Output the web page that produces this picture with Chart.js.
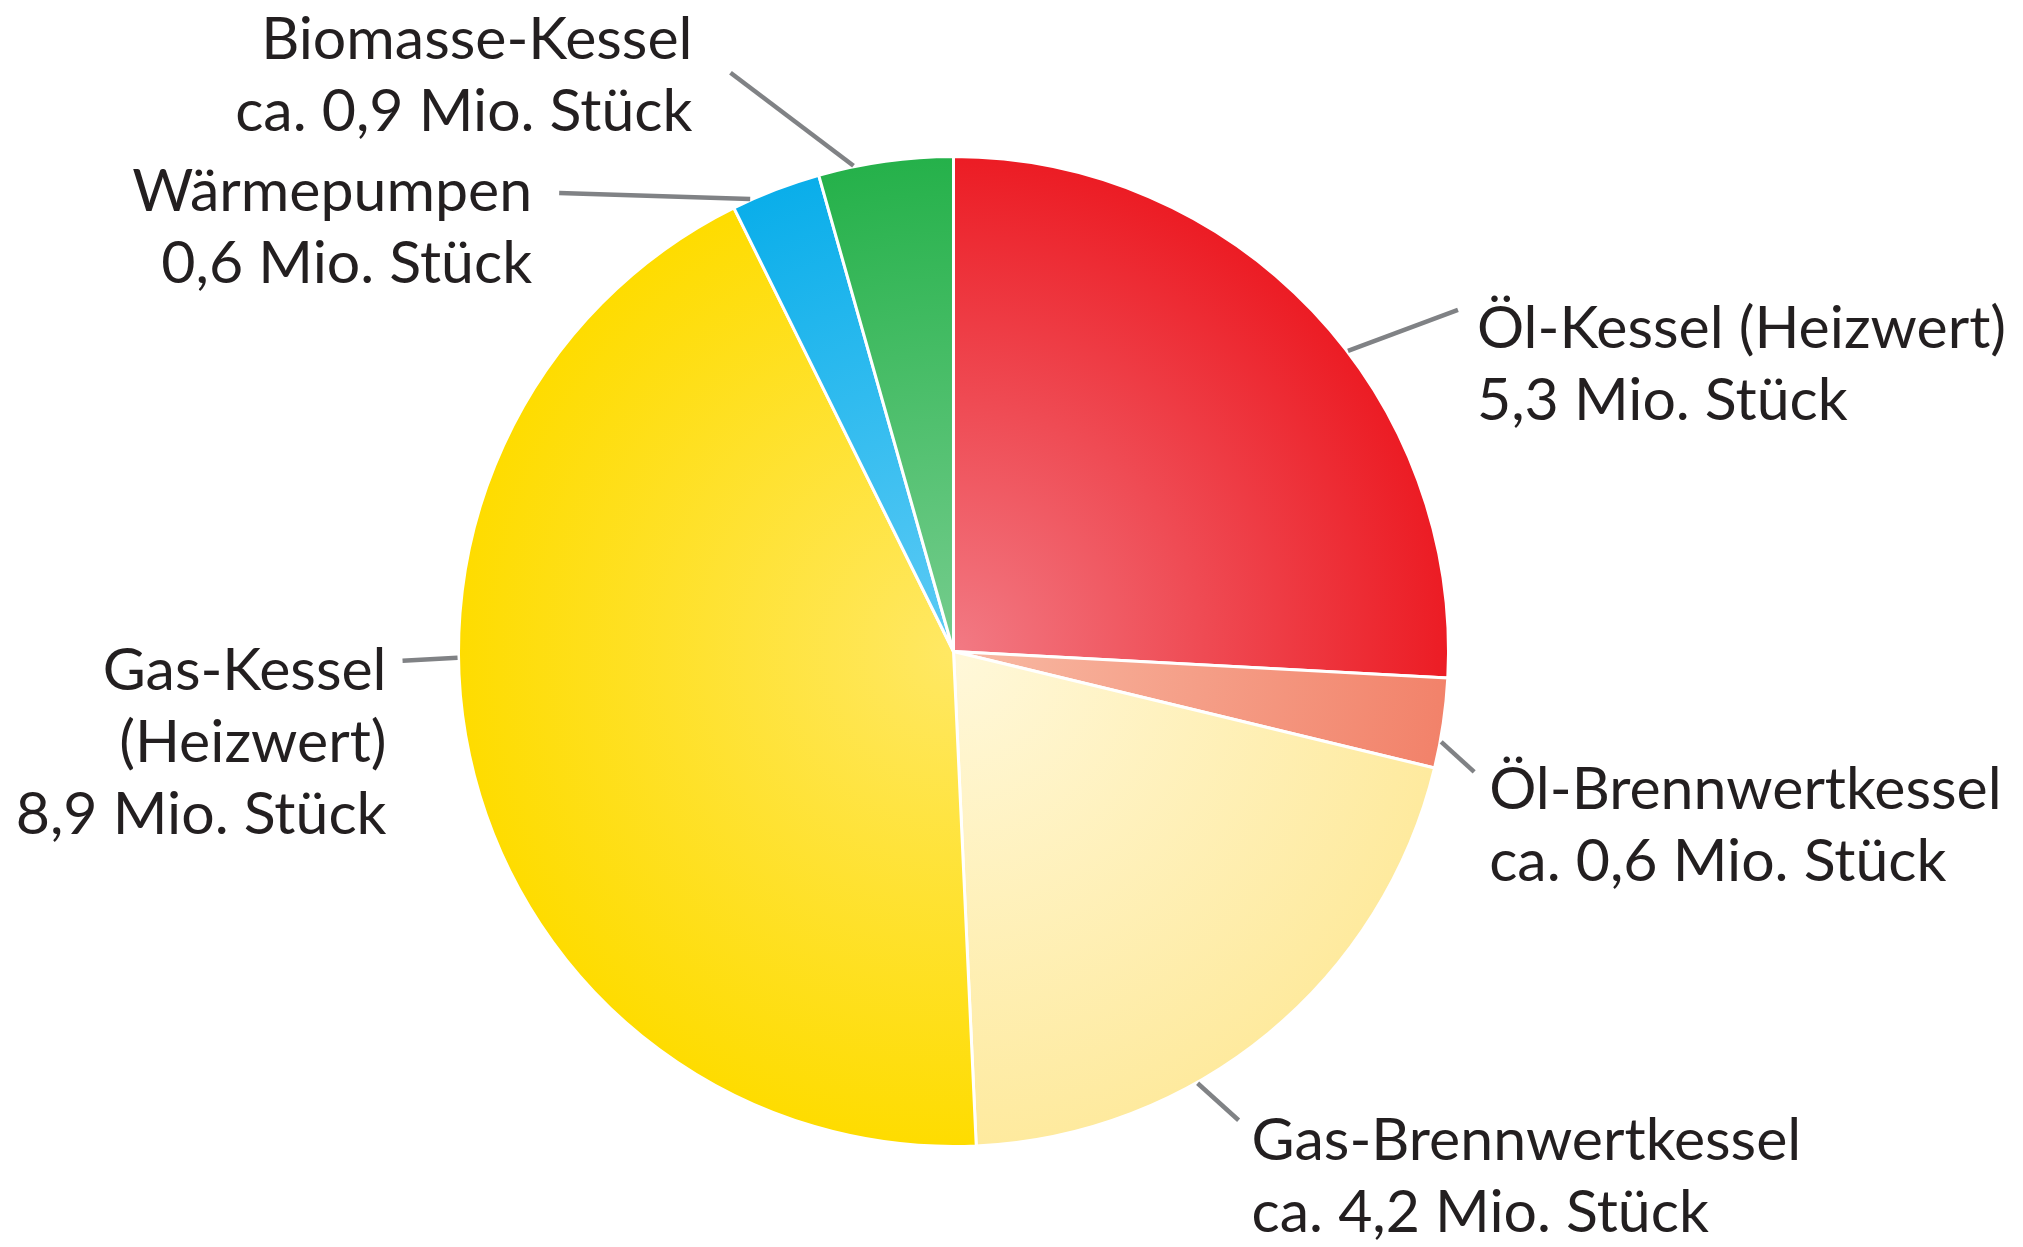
<!DOCTYPE html>
<html>
<head>
<meta charset="utf-8">
<script src="https://cdn.jsdelivr.net/npm/chart.js@4.4.1/dist/chart.umd.min.js"></script>
<style>
  html, body { margin: 0; background: #fff; }
  #wrap { width: 2023px; height: 1247px; }
</style>
</head>
<body>
<div id="wrap"><canvas id="heating_chart"></canvas></div>
<script>
/* data */
const categories = ['Öl-Kessel (Heizwert)', 'Öl-Brennwertkessel', 'Gas-Brennwertkessel', 'Gas-Kessel (Heizwert)', 'Wärmepumpen', 'Biomasse-Kessel'];
const units = [5.3, 0.6, 4.2, 8.9, 0.6, 0.9]; // Mio. Stück
const nameLines = [['Öl-Kessel (Heizwert)'], ['Öl-Brennwertkessel'], ['Gas-Brennwertkessel'], ['Gas-Kessel', '(Heizwert)'], ['Wärmepumpen'], ['Biomasse-Kessel']];
const approx = [false, true, true, false, false, true];

/* colours: light centre -> saturated rim */
const innerColors = ['#f27a84', '#f8baa4', '#fff8da', '#ffe864', '#5ecbf5', '#76cd8e'];
const rimColors = ['#ec1c24', '#f2826a', '#feea9e', '#fedc00', '#0aaeea', '#25b14a'];

/* leader line / label placement: point on the arc (fraction of slice), line vector, text offset */
const leaderLayout = [
    { at: 0.566, dx: 110, dy: -41, tx: 19, ty: 38, align: 'left' },
    { at: 0.705, dx: 33, dy: 30, tx: 15, ty: 37, align: 'left' },
    { at: 0.636, dx: 41, dy: 37, tx: 13, ty: 40, align: 'left' },
    { at: 0.588, dx: -55, dy: 3, tx: -16, ty: 29, align: 'right' },
    { at: 0.203, dx: -191, dy: -6, tx: -27, ty: 18, align: 'right' },
    { at: 0.264, dx: -123, dy: -93, tx: -38, ty: -14, align: 'right' }
];
const BORDER = 3;
const FONT = '59px Lato';
const LINE_HEIGHT = 72;

function valueText(i) {
    const num = units[i].toLocaleString('de-DE', { minimumFractionDigits: 1 });
    return (approx[i] ? 'ca. ' : '') + num + ' Mio. Stück';
}

function sliceFill(ctx) {
    const i = ctx.dataIndex;
    const area = ctx.chart.chartArea;
    if (!area) return rimColors[i];
    const cx = (area.left + area.right) / 2;
    const cy = (area.top + area.bottom) / 2;
    const r = (Math.min(area.right - area.left, area.bottom - area.top) - BORDER) / 2;
    const g = ctx.chart.ctx.createRadialGradient(cx, cy, 0, cx, cy, r);
    g.addColorStop(0, innerColors[i]);
    g.addColorStop(1, rimColors[i]);
    return g;
}

const calloutPlugin = {
    id: 'callouts',
    afterDatasetsDraw(chart) {
        const c = chart.ctx;
        const arcs = chart.getDatasetMeta(0).data;
        c.save();
        arcs.forEach((arc, i) => {
            const p = arc.getProps(['x', 'y', 'startAngle', 'endAngle', 'outerRadius'], true);
            const lay = leaderLayout[i];
            const a = p.startAngle + (p.endAngle - p.startAngle) * lay.at;
            const x0 = p.x + Math.cos(a) * (p.outerRadius + 1);
            const y0 = p.y + Math.sin(a) * (p.outerRadius + 1);
            const x1 = x0 + lay.dx;
            const y1 = y0 + lay.dy;
            c.strokeStyle = '#808285';
            c.lineWidth = 4.5;
            c.beginPath();
            c.moveTo(x0, y0);
            c.lineTo(x1, y1);
            c.stroke();

            const lines = nameLines[i].concat([valueText(i)]);
            c.font = FONT;
            c.fillStyle = '#231f20';
            c.textAlign = lay.align;
            c.textBaseline = 'alphabetic';
            lines.forEach((t, k) => {
                c.fillText(t, x1 + lay.tx, y1 + lay.ty + k * LINE_HEIGHT);
            });
        });
        c.restore();
    }
};

const heating = document.getElementById('heating_chart').getContext('2d');

new Chart(heating, {
    type: 'pie',
    data: {
        labels: categories,
        datasets: [{
            label: 'Mio. Stück',
            data: units,
            backgroundColor: sliceFill,
            borderColor: '#ffffff',
            borderWidth: BORDER
        }]
    },
    options: {
        responsive: true,
        maintainAspectRatio: false,
        animation: false,
        layout: {
            padding: { left: 457, right: 573, top: 155, bottom: 99 }
        },
        plugins: {
            legend: { display: false },
            tooltip: { enabled: false }
        }
    },
    plugins: [calloutPlugin]
});
</script>
</body>
</html>
